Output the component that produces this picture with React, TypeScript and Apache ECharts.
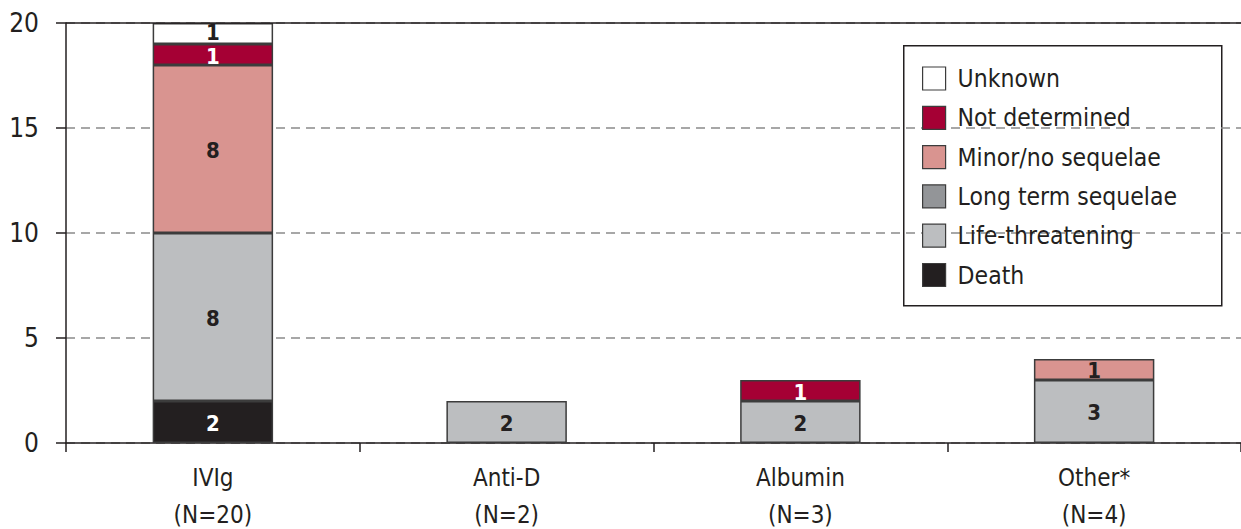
import React, { useEffect, useRef } from "react";
import * as echarts from "echarts";

const categories = ["IVIg\n(N=20)", "Anti-D\n(N=2)", "Albumin\n(N=3)", "Other*\n(N=4)"];

// Stacked from the bottom up
const death = [2, null, null, null];
const lifeThreatening = [8, 2, 2, 3];
const longTermSequelae = [null, null, null, null];
const minorNoSequelae = [8, null, null, 1];
const notDetermined = [1, null, 1, null];
const unknown = [1, null, null, null];

const yTicks = { min: 0, max: 20, interval: 5 };

const FONT = "'DejaVu Sans Condensed', 'Liberation Sans', sans-serif";
const INK = "#231f20";

const seriesDefs = [
  { name: "Death", data: death, color: "#231f20", text: "#ffffff", dy: 1 },
  { name: "Life-threatening", data: lifeThreatening, color: "#bcbec0", text: INK, dy: 1 },
  { name: "Long term sequelae", data: longTermSequelae, color: "#939598", text: INK, dy: 1 },
  { name: "Minor/no sequelae", data: minorNoSequelae, color: "#d99490", text: INK, dy: 1 },
  { name: "Not determined", data: notDetermined, color: "#a50034", text: "#ffffff", dy: 2 },
  { name: "Unknown", data: unknown, color: "#ffffff", text: INK, dy: -1 },
];

export default function App() {
  const ref = useRef<HTMLDivElement>(null);

  useEffect(() => {
    if (!ref.current) return;
    const chart = echarts.init(ref.current, null, { renderer: "svg" });

    const series: any[] = seriesDefs.map((s, i) => ({
      type: "bar",
      name: s.name,
      stack: "total",
      data: s.data,
      barWidth: "41%",
      itemStyle: { color: s.color, borderColor: "#3c3c3c", borderWidth: 1.5 },
      label: {
        show: true,
        position: "inside",
        formatter: "{c}",
        color: s.text,
        fontFamily: FONT,
        fontWeight: "bold",
        fontSize: 22,
        lineHeight: 19,
        offset: [0, s.dy],
      },
      ...(i === 0
        ? {
            markLine: {
              silent: true,
              symbol: "none",
              label: { show: false },
              lineStyle: { color: INK, type: "solid", width: 1.5 },
              data: [{ yAxis: 20 }],
            },
          }
        : {}),
    }));

    chart.setOption({
      animation: false,
      backgroundColor: "#ffffff",
      textStyle: { fontFamily: FONT },
      grid: { left: 66, right: 0, top: 23, bottom: 86, outerBoundsMode: "none" },
      legend: {
        orient: "vertical",
        left: 922,
        top: 66,
        padding: 0,
        itemWidth: 23,
        itemHeight: 23,
        itemGap: 14.3,
        icon: "rect",
        selectedMode: false,
        data: ["Unknown", "Not determined", "Minor/no sequelae", "Long term sequelae", "Life-threatening", "Death"],
        itemStyle: { borderColor: "#3c3c3c", borderWidth: 1.2 },
        textStyle: { fontFamily: FONT, fontSize: 24.5, lineHeight: 23, color: INK, padding: [0, 0, 0, 7] },
      },
      graphic: [
        {
          type: "rect",
          left: 903,
          top: 45,
          shape: { width: 318, height: 260 },
          style: { fill: "#ffffff", stroke: INK, lineWidth: 1.5 },
          z: -1,
        },
      ],
      xAxis: {
        type: "category",
        data: categories,
        axisLine: { lineStyle: { color: INK, width: 1.5 } },
        axisTick: { show: true, length: 9, interval: 0, lineStyle: { color: INK, width: 1.5 } },
        axisLabel: { fontFamily: FONT, fontSize: 24, color: INK, lineHeight: 37, margin: 16 },
      },
      yAxis: {
        type: "value",
        min: yTicks.min,
        max: yTicks.max,
        interval: yTicks.interval,
        axisLine: { show: true, lineStyle: { color: INK, width: 1.5 } },
        axisTick: { show: true, length: 10, lineStyle: { color: INK, width: 1.5 } },
        axisLabel: { fontFamily: FONT, fontSize: 26, color: INK, margin: 27 },
        splitLine: { show: true, lineStyle: { color: "#8a8a8a", type: [9, 6], width: 1.5 } },
      },
      series,
    });

    return () => chart.dispose();
  }, []);

  return <div ref={ref} style={{ width: 1241, height: 529, position: "absolute", left: 0, top: 0 }} />;
}
